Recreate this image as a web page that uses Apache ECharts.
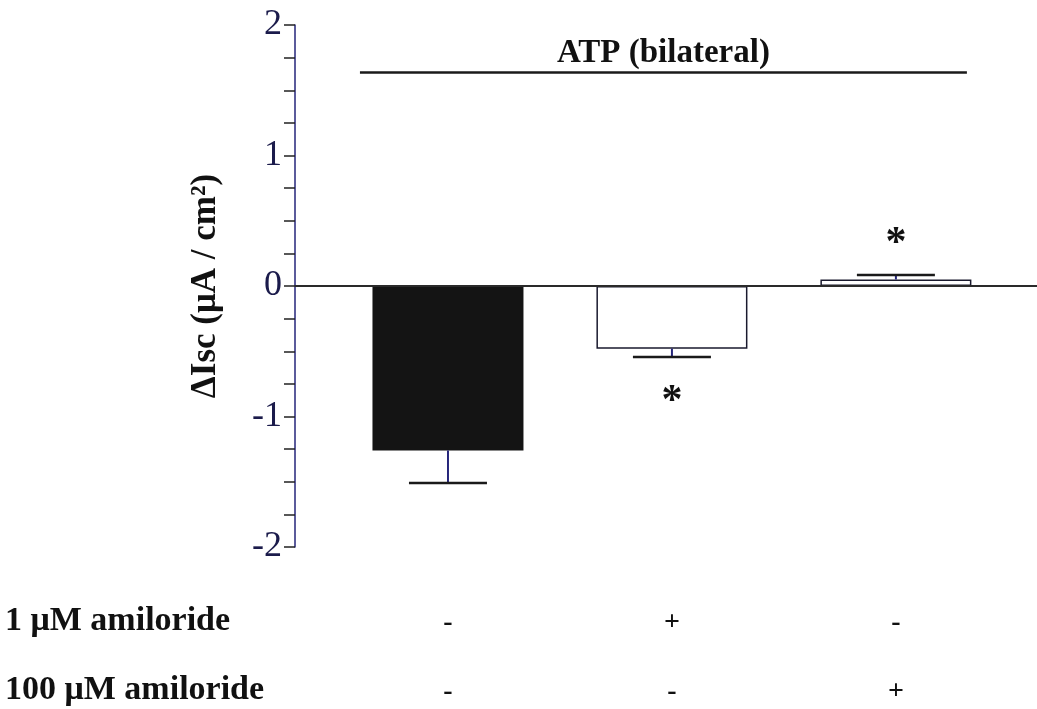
<!DOCTYPE html>
<html>
<head>
<meta charset="utf-8">
<script src="https://cdn.jsdelivr.net/npm/echarts@6/dist/echarts.min.js"></script>
<style>
html,body{margin:0;padding:0;background:#fff;}
#chart{width:1037px;height:709px;}
</style>
</head>
<body>
<div id="chart"></div>
<script>
// ---- data ----
const groups = [1, 2, 3];
const means = [-1.26, -0.48, 0.05];
const errors = [0.25, 0.065, 0.035];
const significant = [false, true, true];
const barColors = ['#141414', '#ffffff', '#ffffff'];
const amiloride1 = ['-', '+', '-'];
const amiloride100 = ['-', '-', '+'];
const rowLabels = ['1 \u03bcM amiloride', '100 \u03bcM amiloride'];
const yTicks = [-2, -1, 0, 1, 2];
const titleText = 'ATP (bilateral)';

const serif = '"Liberation Serif", "DejaVu Serif", serif';
const axisColor = '#25257a';

const chart = echarts.init(document.getElementById('chart'));

const barData = groups.map((g, i) => ({
  value: [g, means[i]],
  itemStyle: { color: barColors[i], borderColor: '#1a1a2e', borderWidth: i === 0 ? 0 : 1.5 }
}));
const errData = groups.map((g, i) => [g, means[i], errors[i], significant[i] ? 1 : 0]);

chart.setOption({
  animation: false,
  backgroundColor: '#ffffff',
  grid: { left: 295, right: 0, top: 25, bottom: 162 },
  xAxis: {
    type: 'value',
    min: 0.317,
    max: 3.63,
    splitLine: { show: false },
    axisLine: { show: false },
    axisTick: { show: false },
    axisLabel: {
      customValues: groups,
      margin: 41,
      formatter: function (v) {
        const i = Math.round(v) - 1;
        return '{a|' + amiloride1[i] + '}\n{b|' + amiloride100[i] + '}';
      },
      rich: {
        a: { fontFamily: serif, fontWeight: 'bold', fontSize: 28, color: '#111', lineHeight: 69 },
        b: { fontFamily: serif, fontWeight: 'bold', fontSize: 28, color: '#111', lineHeight: 69 }
      }
    }
  },
  yAxis: {
    type: 'value',
    min: yTicks[0],
    max: yTicks[yTicks.length - 1],
    interval: 1,
    name: '\u0394Isc (\u03bcA / cm\u00b2)',
    nameLocation: 'middle',
    nameGap: 72,
    nameTextStyle: { fontFamily: serif, fontWeight: 'bold', fontSize: 35, color: '#111' },
    splitLine: { show: false },
    axisLine: { show: true, lineStyle: { color: axisColor, width: 1.5 } },
    axisTick: { show: true, length: 11, lineStyle: { color: '#222', width: 1.5 } },
    minorTick: { show: true, splitNumber: 4, length: 11, lineStyle: { color: '#222', width: 1.5 } },
    axisLabel: { fontFamily: serif, fontSize: 36, color: '#1b1b4b', margin: 13 }
  },
  graphic: rowLabels.map((t, i) => ({
    type: 'text',
    x: 5,
    y: 621 + i * 69,
    style: { text: t, font: 'bold 34px ' + serif, fill: '#111', verticalAlign: 'middle' }
  })),
  series: [
    {
      type: 'bar',
      data: barData,
      barWidth: 151,
      z: 2,
      markLine: {
        silent: true,
        symbol: 'none',
        animation: false,
        data: [
          {
            yAxis: 0,
            lineStyle: { color: '#2a2a2a', width: 2, type: 'solid' },
            label: { show: false }
          },
          [
            { coord: [0.607, 1.64], lineStyle: { color: '#1a1a1a', width: 2.5, type: 'solid' },
              label: { show: true, position: 'middle', formatter: titleText, distance: 2,
                fontFamily: serif, fontWeight: 'bold', fontSize: 33, color: '#111' } },
            { coord: [3.317, 1.64] }
          ]
        ]
      }
    },
    {
      type: 'custom',
      data: errData,
      z: 3,
      renderItem: function (params, api) {
        const x = api.value(0), m = api.value(1), e = api.value(2), sig = api.value(3);
        const dir = m < 0 ? -1 : 1;
        const base = api.coord([x, m]);
        const tip = api.coord([x, m + dir * e]);
        const half = 39;
        const children = [
          { type: 'line', shape: { x1: base[0], y1: base[1], x2: tip[0], y2: tip[1] },
            style: { stroke: axisColor, lineWidth: 2 } },
          { type: 'line', shape: { x1: tip[0] - half, y1: tip[1], x2: tip[0] + half, y2: tip[1] },
            style: { stroke: '#1a1a1a', lineWidth: 2.5 } }
        ];
        if (sig) {
          children.push({
            type: 'text',
            style: {
              text: '*', x: tip[0], y: tip[1] + (dir < 0 ? 24 : -52),
              font: 'bold 42px ' + serif, fill: '#111', align: 'center', verticalAlign: 'top'
            }
          });
        }
        return { type: 'group', children: children };
      }
    }
  ]
});
</script>
</body>
</html>
